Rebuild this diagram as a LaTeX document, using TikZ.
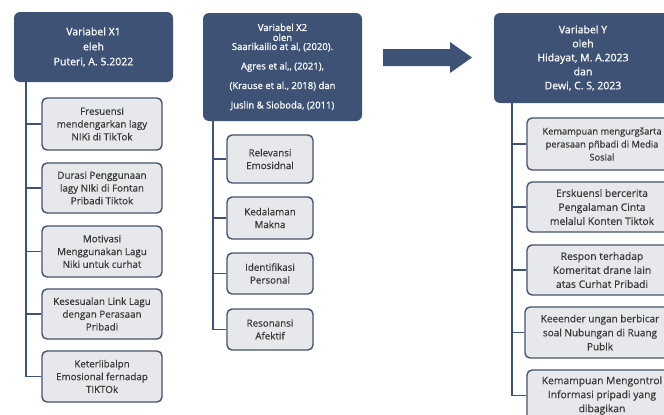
\documentclass[tikz,border=0pt]{standalone}
\usepackage{fontspec}
\setmainfont{Open Sans}
\newfontfamily\hdrfont[FakeBold=0.8]{Open Sans}
\newfontfamily\boxfont[FakeBold=0.4]{Open Sans}
\definecolor{hdrblue}{HTML}{3D5275}
\definecolor{boxfill}{HTML}{E7E8EB}
\definecolor{boxline}{HTML}{46526A}
\tikzset{
  hdr/.style={draw=none, fill=hdrblue, rounded corners=6pt, text=white, align=center, inner sep=0pt},
  child/.style={draw=boxline, line width=1.4pt, fill=boxfill, rounded corners=5pt, align=center, inner sep=0pt, text=black!78},
  conn/.style={draw=hdrblue, line width=1.8pt},
}
\begin{document}
\begin{tikzpicture}[x=1pt,y=-1pt]
\path[use as bounding box] (0,0) rectangle (664,415);
\clip (0,0) rectangle (664,415);
\fill[white] (0,0) rectangle (664,415);

% ---------- Variabel X1 ----------
\node[hdr, minimum width=159pt, minimum height=70pt, font=\hdrfont\fontsize{10.5}{15}\selectfont] (h1) at (93.5,47)
  {Variabel X1\\eleh\\Puteri, A. 5.2022};
\begin{scope}[every node/.style={child, minimum width=120pt, font=\boxfont\fontsize{9.8}{12.8}\selectfont}]
\node[minimum height=52pt] (a1) at (102,124) {Fresuensi\\mendengarkan lagy\\NIKi di TikTok};
\node[minimum height=50pt] (a2) at (102,188) {Durasi Penggunaan\\lagy NIki di Fontan\\Pribadi Tiktok};
\node[minimum height=51pt] (a3) at (102,251.5) {Motivasi\\Menggunakan Lagu\\Niki untuk curhat};
\node[minimum height=50pt] (a4) at (102,314) {Kesesualan Link Lagu\\dengan Perasaan\\Pribadi};
\node[minimum height=51pt] (a5) at (102,376.5) {Keterlibalpn\\Emosional fernadap\\TIKTOk};
\end{scope}
\coordinate (v1) at ([xshift=12pt]h1.south west);
\draw[conn] (v1) -- (v1 |- a5.west) -- (a5.west);
\foreach \n in {a1,a2,a3,a4} \draw[conn] (v1 |- \n.west) -- (\n.west);

% ---------- Variabel X2 ----------
\node[hdr, minimum width=159pt, minimum height=108pt, font=\hdrfont\fontsize{9.5}{19.5}\selectfont] (h2) at (282.5,67)
  {Variabel X2\\[-9.5pt]olen\\[-10.5pt]Saarikailio at al, (2020).\\Agres et al,, (2021),\\(Krause et al., 2018) dan\\Juslin \& Sioboda, (2011)};
\begin{scope}[every node/.style={child, minimum width=86pt, font=\boxfont\fontsize{9.8}{12.8}\selectfont}]
\node[minimum height=48pt] (b1) at (270,159) {Relevansi\\Emosidnal};
\node[minimum height=42pt] (b2) at (270,218) {Kedalaman\\Makna};
\node[minimum height=41pt] (b3) at (270,273.5) {Identifikasi\\Personal};
\node[minimum height=41pt] (b4) at (270,329.5) {Resonansi\\Afektif};
\end{scope}
\coordinate (v2) at ([xshift=10pt]h2.south west);
\draw[conn] (v2) -- (v2 |- b4.west) -- (b4.west);
\foreach \n in {b1,b2,b3} \draw[conn] (v2 |- \n.west) -- (\n.west);

% ---------- big arrow ----------
\fill[hdrblue] (383,49) -- (450,49) -- (450,42) -- (472,57.5) -- (450,73) -- (450,66) -- (383,66) -- cycle;

% ---------- Variabel Y ----------
\node[hdr, minimum width=178pt, minimum height=90pt, font=\hdrfont\fontsize{10.5}{14}\selectfont] (h3) at (583,58)
  {Variabel Y\\oleh\\Hidayat, M. A.2023\\dan\\Dewi, C. S, 2023};
\begin{scope}[every node/.style={child, minimum width=150pt, font=\boxfont\fontsize{10.3}{14}\selectfont}]
\node[minimum height=52pt, font=\boxfont\fontsize{9.3}{13}\selectfont] (c1) at (602,144) {Kemampuan mengurgšarta\\perasaan pñbadi di Media\\Sosial};
\node[minimum height=50pt] (c2) at (602,207) {Erskuensl bercerita\\Pengalaman Cinta\\melalul Konten Tiktok};
\node[minimum height=50pt] (c3) at (602,270) {Respon terhadap\\Komeritat drane lain\\atas Curhat Pribadi};
\node[minimum height=51pt, font=\boxfont\fontsize{10}{14}\selectfont] (c4) at (600,332.5) {Keeender ungan berbicar\\soal Nubungan di Ruang\\Publk};
\node[minimum height=51pt] (c5) at (602,395.5) {Kemampuan Mengontrol\\Informasi pripadi yang\\dibagikan};
\end{scope}
\coordinate (v3) at ([xshift=18pt]h3.south west);
\draw[conn] (v3) -- (v3 |- c5.west) -- (c5.west);
\foreach \n in {c1,c2,c3,c4} \draw[conn] (v3 |- \n.west) -- (\n.west);
\end{tikzpicture}
\end{document}
